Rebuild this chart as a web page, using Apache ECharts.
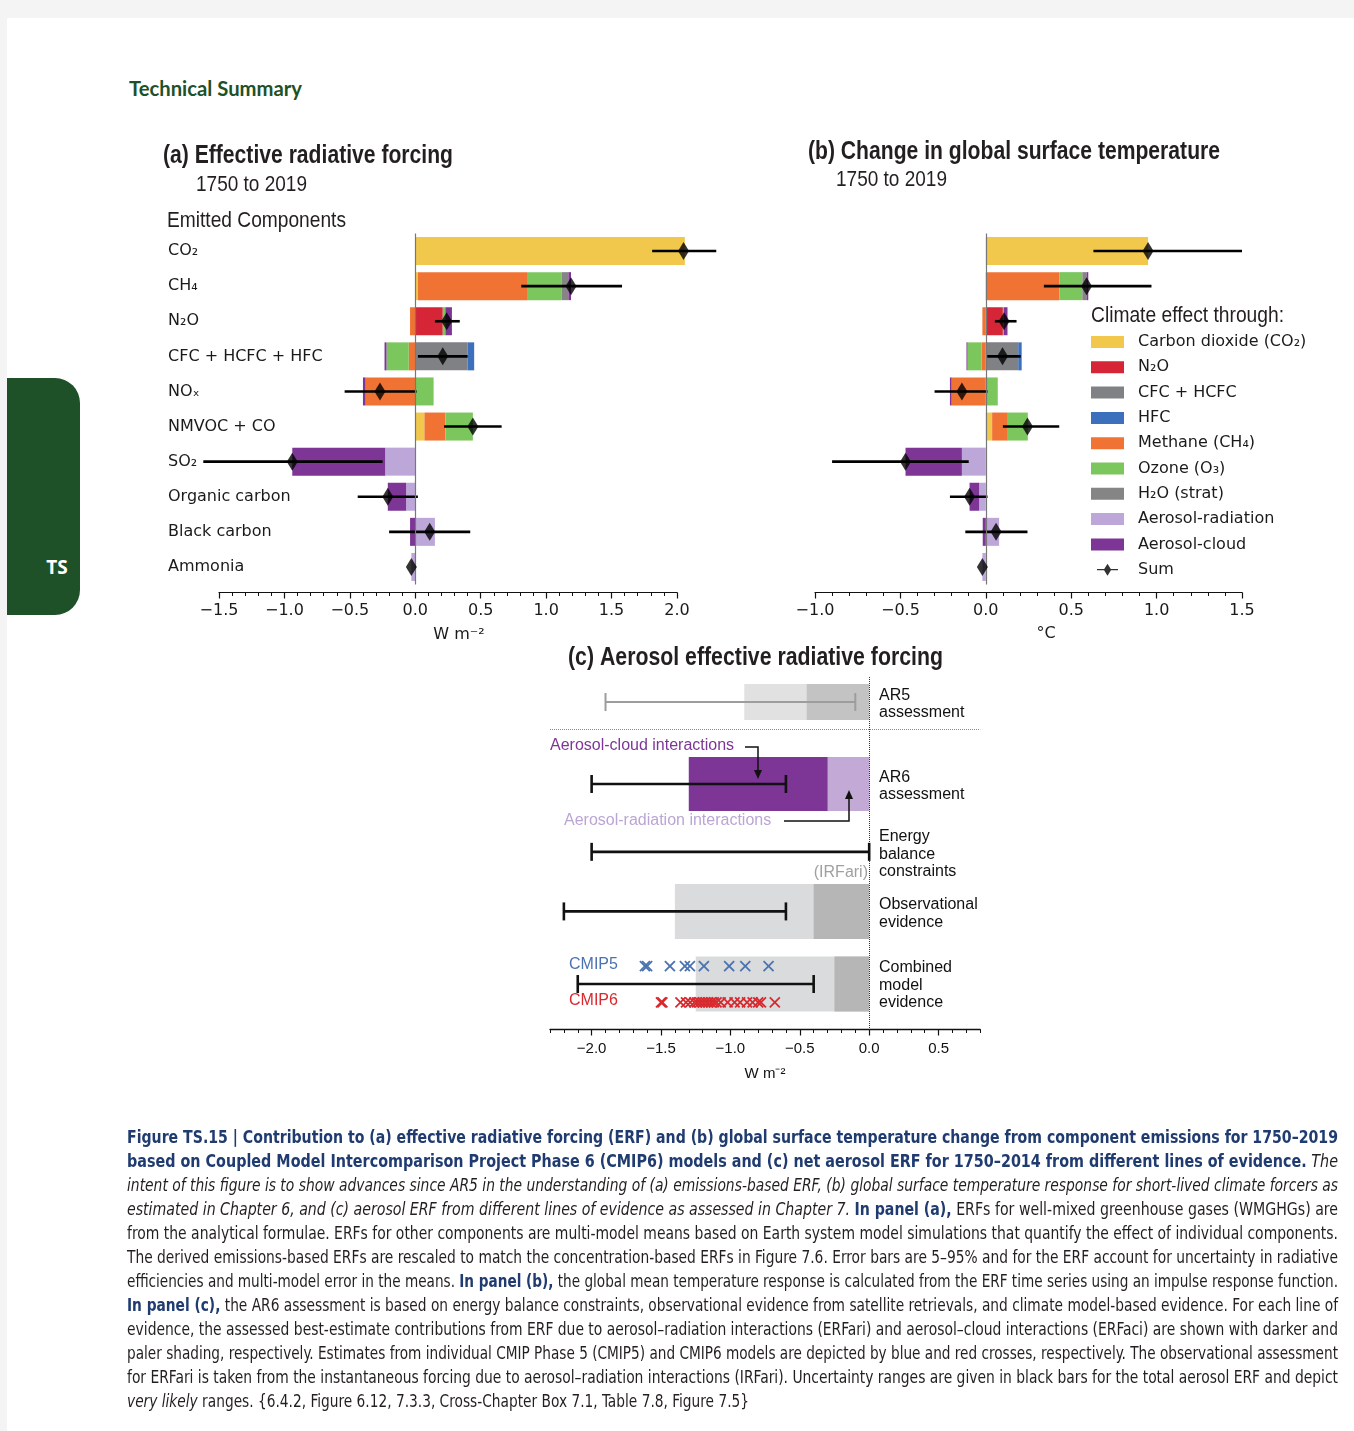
<!DOCTYPE html>
<html><head><meta charset="utf-8">
<script src="https://cdn.jsdelivr.net/npm/echarts@6/dist/echarts.min.js"></script>
<style>
html,body{margin:0;padding:0;background:#f4f4f4;}
#page{position:absolute;left:7px;top:18px;width:1347px;height:1413px;background:#fff;}
#tab{position:absolute;left:7px;top:378px;width:73px;height:237px;background:#1f5129;border-radius:0 25px 25px 0;}
#ts{position:absolute;left:37px;top:554px;width:40px;text-align:center;line-height:24px;color:#fff;font:bold 19px "Open Sans","Liberation Sans",sans-serif;}
#hdr{position:absolute;left:129px;top:76px;line-height:26px;white-space:nowrap;color:#1e5128;font:bold 20px Lato,"Liberation Sans",sans-serif;transform-origin:0 50%;}
#chart{position:absolute;left:0;top:0;width:1354px;height:1431px;}
#caption{position:absolute;left:127px;top:1125px;width:1211px;font-family:"Liberation Sans Narrow","DejaVu Sans Condensed","Liberation Sans",sans-serif;font-size:18px;color:#231f20;}
.ln{height:24px;line-height:24px;white-space:nowrap;}
.ln>span{display:inline-block;transform-origin:0 50%;}
#caption b{color:#1f3b70;font-weight:bold;}
#caption i{font-style:italic;}
</style></head>
<body>
<div id="page"></div>
<div id="tab"></div>
<div id="ts">TS</div>
<div id="hdr">Technical Summary</div>
<div id="chart"></div>
<div id="caption">
<div class="ln"><span><b>Figure TS.15 | Contribution to (a) effective radiative forcing (ERF) and (b) global surface temperature change from component emissions for 1750–2019</b></span></div>
<div class="ln"><span><b>based on Coupled Model Intercomparison Project Phase 6 (CMIP6) models and (c) net aerosol ERF for 1750–2014 from different lines of evidence.</b> <i>The</i></span></div>
<div class="ln"><span><i>intent of this figure is to show advances since AR5 in the understanding of (a) emissions-based ERF, (b) global surface temperature response for short-lived climate forcers as</i></span></div>
<div class="ln"><span><i>estimated in Chapter 6, and (c) aerosol ERF from different lines of evidence as assessed in Chapter 7.</i> <b>In panel (a),</b> ERFs for well-mixed greenhouse gases (WMGHGs) are</span></div>
<div class="ln"><span>from the analytical formulae. ERFs for other components are multi-model means based on Earth system model simulations that quantify the effect of individual components.</span></div>
<div class="ln"><span>The derived emissions-based ERFs are rescaled to match the concentration-based ERFs in Figure 7.6. Error bars are 5–95% and for the ERF account for uncertainty in radiative</span></div>
<div class="ln"><span>efficiencies and multi-model error in the means. <b>In panel (b),</b> the global mean temperature response is calculated from the ERF time series using an impulse response function.</span></div>
<div class="ln"><span><b>In panel (c),</b> the AR6 assessment is based on energy balance constraints, observational evidence from satellite retrievals, and climate model-based evidence. For each line of</span></div>
<div class="ln"><span>evidence, the assessed best-estimate contributions from ERF due to aerosol–radiation interactions (ERFari) and aerosol–cloud interactions (ERFaci) are shown with darker and</span></div>
<div class="ln"><span>paler shading, respectively. Estimates from individual CMIP Phase 5 (CMIP5) and CMIP6 models are depicted by blue and red crosses, respectively. The observational assessment</span></div>
<div class="ln"><span>for ERFari is taken from the instantaneous forcing due to aerosol–radiation interactions (IRFari). Uncertainty ranges are given in black bars for the total aerosol ERF and depict</span></div>
<div class="ln"><span><i>very likely</i> ranges. {6.4.2, Figure 6.12, 7.3.3, Cross-Chapter Box 7.1, Table 7.8, Figure 7.5}</span></div>
</div>
<script>
// ---------------- DATA ----------------
const components = ['CO₂','CH₄','N₂O','CFC + HCFC + HFC','NOₓ','NMVOC + CO','SO₂','Organic carbon','Black carbon','Ammonia'];
const effectNames = ['Carbon dioxide (CO₂)','N₂O','CFC + HCFC','HFC','Methane (CH₄)','Ozone (O₃)','H₂O (strat)','Aerosol-radiation','Aerosol-cloud'];

// (a) ERF, W m-2, contribution of each climate effect per emitted component
const erfCO2   = [2.06, 0.02, 0,     0,     0,     0.07, 0,     0,     0,     0];
const erfN2O   = [0,    0,    0.21,  0,     0,     0,    0,     0,     0,     0];
const erfCFC   = [0,    0,    0,     0.40,  0,     0,    0,     0,     0,     0];
const erfHFC   = [0,    0,    0,     0.05,  0,     0,    0,     0,     0,     0];
const erfCH4   = [0,    0.84, -0.04, -0.05, -0.38, 0.16, 0,     0,     0,     0];
const erfO3    = [0,    0.26, 0.02,  -0.17, 0.14,  0.21, 0,     0,     0,     0];
const erfH2O   = [0,    0.05, 0,     0,     0,     0,    0,     0,     0,     0];
const erfAri   = [0,    0,    0,     0,     0,     0,    -0.23, -0.07, 0.15,  -0.03];
const erfAci   = [0,    0.02, 0.05,  -0.015,-0.02, 0,    -0.71, -0.14, -0.04, 0];
const erfSum   = [2.05, 1.19, 0.24,  0.21,  -0.27, 0.44, -0.94, -0.21, 0.11,  -0.03];
const erfLow   = [1.81, 0.81, 0.15,  0.02,  -0.54, 0.22, -1.62, -0.44, -0.20, null];
const erfHigh  = [2.30, 1.58, 0.34,  0.40,  0.01,  0.66, -0.25, 0.02,  0.42,  null];

// (b) temperature change, degC
const dtCO2    = [0.95, 0,    0,     0,     0,     0.037, 0,     0,      0,      0];
const dtN2O    = [0,    0,    0.10,  0,     0,     0,     0,     0,      0,      0];
const dtCFC    = [0,    0,    0,     0.19,  0,     0,     0,     0,      0,      0];
const dtHFC    = [0,    0,    0,     0.02,  0,     0,     0,     0,      0,      0];
const dtCH4    = [0,    0.43, -0.02, -0.025,-0.20, 0.092, 0,     0,      0,      0];
const dtO3     = [0,    0.135,0.005, -0.082,0.07,  0.117, 0,     0,      0,      0];
const dtH2O    = [0,    0.025,0,     0,     0,     0,     0,     0,      0,      0];
const dtAri    = [0,    0,    0,     0,     0,     0,     -0.14, -0.039, 0.078,  -0.02];
const dtAci    = [0,    0.01, 0.022, -0.006,-0.01, 0,     -0.33, -0.056, -0.018, 0];
const dtSum    = [0.95, 0.59, 0.107, 0.098, -0.14, 0.244, -0.47, -0.095, 0.06,   -0.02];
const dtLow    = [0.63, 0.34, 0.053, 0.008, -0.30, 0.10,  -0.90, -0.21,  -0.12,  null];
const dtHigh   = [1.50, 0.97, 0.18,  0.205, 0.01,  0.43,  -0.10, 0.01,   0.244,  null];

// (c) aerosol ERF lines of evidence, W m-2
const evidenceLines = ['AR5\nassessment','AR6\nassessment','Energy\nbalance\nconstraints','Observational\nevidence','Combined\nmodel\nevidence'];
const aerTotal = [-0.90, -1.30, null, -1.40, -1.25];
const aerAri   = [-0.45, -0.30, null, -0.40, -0.25];
const aerLow   = [-1.9, -2.0, -2.0, -2.2, -2.1];
const aerHigh  = [-0.1, -0.6, 0.0, -0.6, -0.4];
const cmip5 = [-1.616, -1.60, -1.436, -1.328, -1.292, -1.191, -1.009, -0.893, -0.725];
const cmip6 = [-1.50, -1.49, -1.36, -1.32, -1.29, -1.26, -1.24, -1.22, -1.20, -1.18, -1.16, -1.14, -1.12, -1.10, -1.07, -1.02, -0.97, -0.93, -0.88, -0.84, -0.80, -0.78, -0.68];
const ticksC = [-2.0,-1.5,-1.0,-0.5,0.0,0.5];

// ---------------- LAYOUT / STYLE ----------------
const effectColors = ['#f1c84b','#d62536','#7f8184','#3c70bd','#f07333','#7cc65e','#858585','#bda7d8','#7d3596'];
const erfSeries = [erfCO2,erfN2O,erfCFC,erfHFC,erfCH4,erfO3,erfH2O,erfAri,erfAci];
const dtSeries  = [dtCO2,dtN2O,dtCFC,dtHFC,dtCH4,dtO3,dtH2O,dtAri,dtAci];
const cLayout = {yPos:[0.71,3.035,4.96,6.65,8.71], barH:[1.02,1.53,0,1.56,1.56], cmip5Y:8.20, cmip6Y:9.23, sepY:1.48};
const cOuter = ['#e1e1e1','#7d3596',null,'#dadbdc','#dadbdc'];
const cInner = ['#c3c3c3','#c2a9d6',null,'#b6b6b6','#b6b6b6'];
const minorC = []; for (let k=-23;k<=8;k++) minorC.push(k/10);

const fmt = v => { const s = (Math.abs(v)<1e-9?0:v).toFixed(1); return s.replace('-','−'); };
const mctx = document.createElement('canvas').getContext('2d');
function txt(text, x, y, size, weight, w, fill, family){
  family = family || 'Liberation Sans';
  mctx.font = `${weight} ${size}px "${family}"`;
  const s = w ? w / mctx.measureText(text).width : 1;
  return {type:'text', x:x, y:y, scaleX:s, z:100, silent:true,
    style:{text:text, fontFamily:family, fontSize:size, fontWeight:weight, fill:fill||'#231f20', align:'left', verticalAlign:'middle'}};
}
function label(text, x, y, size, fill, align, lh, family){
  return {type:'text', x:x, y:y, z:100, silent:true,
    style:{text:text, fontFamily:family||'Liberation Sans', fontSize:size, fill:fill||'#111', align:align||'left', verticalAlign:'middle', lineHeight:lh||size}};
}

function valueAxisAB(grid, min, max){
  return {gridIndex:grid, type:'value', min:min, max:max, interval:0.5, offset:8, position:'bottom',
    axisLine:{show:true, onZero:false, lineStyle:{color:'#111',width:1.2}},
    axisTick:{show:true, length:6, lineStyle:{color:'#111',width:1.2}},
    minorTick:{show:true,splitNumber:5,length:3.5,lineStyle:{color:'#111',width:1}},
    splitLine:{show:false}, minorSplitLine:{show:false},
    axisLabel:{show:true, formatter:fmt, fontFamily:'DejaVu Sans', fontSize:16, color:'#1a1a1a', margin:10, showMinLabel:true, showMaxLabel:true}};
}
function catAxis(grid, showLabels){
  return {gridIndex:grid, type:'category', data:components, inverse:true,
    axisLine:{show:false}, axisTick:{show:false}, splitLine:{show:false},
    axisLabel:{show:showLabels, align:'left', margin:51, fontFamily:'DejaVu Sans', fontSize:16, color:'#1a1a1a'}};
}

const errRenderAB = function(params, api){
  const a = api.coord([api.value(0), api.value(2)]);
  const b = api.coord([api.value(1), api.value(2)]);
  return {type:'line', shape:{x1:a[0],y1:a[1],x2:b[0],y2:b[1]}, style:{stroke:'#000', lineWidth:2.6}};
};

const series = [];
const zeroLine = {silent:true, symbol:['none','none'], label:{show:false}, lineStyle:{color:'#777',width:1.2,type:'solid'}, data:[{xAxis:0}]};
effectNames.forEach((n,k)=>{
  series.push({type:'bar', name:n, xAxisIndex:0, yAxisIndex:0, stack:'erf', barWidth:28, clip:false, itemStyle:{color:effectColors[k]}, data:erfSeries[k], markLine: k===0?zeroLine:undefined});
});
effectNames.forEach((n,k)=>{
  series.push({type:'bar', name:n, xAxisIndex:1, yAxisIndex:1, stack:'dt', barWidth:28, clip:false, itemStyle:{color:effectColors[k]}, data:dtSeries[k], markLine: k===0?zeroLine:undefined});
});
series.push({type:'custom', name:'err a', xAxisIndex:0, yAxisIndex:0, z:4, clip:false, renderItem:errRenderAB, encode:{x:[0,1],y:2},
  data: erfLow.map((lo,i)=> lo==null?null:[lo, erfHigh[i], i]).filter(Boolean)});
series.push({type:'custom', name:'err b', xAxisIndex:1, yAxisIndex:1, z:4, clip:false, renderItem:errRenderAB, encode:{x:[0,1],y:2},
  data: dtLow.map((lo,i)=> lo==null?null:[lo, dtHigh[i], i]).filter(Boolean)});
series.push({type:'scatter', name:'Sum', xAxisIndex:0, yAxisIndex:0, z:6, clip:false, symbol:'diamond', symbolSize:[11,18], itemStyle:{color:'#000'}, data: erfSum.map((v,i)=>[v,i])});
series.push({type:'scatter', name:'Sum', xAxisIndex:1, yAxisIndex:1, z:6, clip:false, symbol:'diamond', symbolSize:[11,18], itemStyle:{color:'#000'}, data: dtSum.map((v,i)=>[v,i])});

// panel (c)
series.push({type:'custom', name:'aer bars', xAxisIndex:2, yAxisIndex:2, z:2, encode:{x:[0,1],y:2},
  data: aerTotal.map((t,i)=> t==null?null:[t, aerAri[i], cLayout.yPos[i], cLayout.barH[i], i]).filter(Boolean),
  renderItem:function(params, api){
    const y = api.value(2), h = api.value(3), i = api.value(4);
    const pT = api.coord([api.value(0), y]), pA = api.coord([api.value(1), y]), p0 = api.coord([0, y]);
    const hp = Math.abs(api.size([0, h])[1]);
    return {type:'group', children:[
      {type:'rect', shape:{x:pT[0], y:pT[1]-hp/2, width:p0[0]-pT[0], height:hp}, style:{fill:cOuter[i]}},
      {type:'rect', shape:{x:pA[0], y:pA[1]-hp/2, width:p0[0]-pA[0], height:hp}, style:{fill:cInner[i]}}
    ]};
  }});
series.push({type:'custom', name:'aer err', xAxisIndex:2, yAxisIndex:2, z:5, encode:{x:[0,1],y:2},
  data: aerLow.map((lo,i)=>[lo, aerHigh[i], cLayout.yPos[i], i]),
  renderItem:function(params, api){
    const y = api.value(2), i = api.value(3);
    const a = api.coord([api.value(0), y]), b = api.coord([api.value(1), y]);
    const col = i===0 ? '#9d9d9d' : '#111', lw = i===0 ? 2 : 2.6, ch = 9;
    const st = {stroke:col, lineWidth:lw};
    return {type:'group', children:[
      {type:'line', shape:{x1:a[0],y1:a[1],x2:b[0],y2:b[1]}, style:st},
      {type:'line', shape:{x1:a[0],y1:a[1]-ch,x2:a[0],y2:a[1]+ch}, style:st},
      {type:'line', shape:{x1:b[0],y1:b[1]-ch,x2:b[0],y2:b[1]+ch}, style:st}
    ]};
  }});
function crossRender(color){
  return function(params, api){
    const p = api.coord([api.value(0), api.value(1)]), r = 5;
    const st = {stroke:color, lineWidth:1.8};
    return {type:'group', children:[
      {type:'line', shape:{x1:p[0]-r,y1:p[1]-r,x2:p[0]+r,y2:p[1]+r}, style:st},
      {type:'line', shape:{x1:p[0]-r,y1:p[1]+r,x2:p[0]+r,y2:p[1]-r}, style:st}
    ]};
  };
}
series.push({type:'custom', name:'CMIP5', xAxisIndex:2, yAxisIndex:2, z:6, encode:{x:0,y:1}, renderItem:crossRender('#4b73b1'), data: cmip5.map(v=>[v, cLayout.cmip5Y])});
series.push({type:'custom', name:'CMIP6', xAxisIndex:2, yAxisIndex:2, z:6, encode:{x:0,y:1}, renderItem:crossRender('#d8292f'), data: cmip6.map(v=>[v, cLayout.cmip6Y])});
series.push({type:'line', name:'guides', xAxisIndex:2, yAxisIndex:2, symbol:'none', lineStyle:{opacity:0}, data:[[0, cLayout.sepY]],
  markLine:{silent:true, symbol:['none','none'], label:{show:false},
    data:[{xAxis:0, lineStyle:{type:'dotted', color:'#333', width:1}}, {yAxis:cLayout.sepY, lineStyle:{type:'dotted', color:'#888', width:1}}]}});

const graphic = [
  txt('(a) Effective radiative forcing', 163, 156, 25, 'bold', 290),
  txt('1750 to 2019', 196, 185, 22, 'normal', 111),
  txt('Emitted Components', 167, 221, 22, 'normal', 179),
  txt('(b) Change in global surface temperature', 808, 152, 25, 'bold', 412),
  txt('1750 to 2019', 836, 180, 22, 'normal', 111),
  txt('Climate effect through:', 1091, 316, 22, 'normal', 193),
  txt('(c) Aerosol effective radiative forcing', 568, 658, 25, 'bold', 375),
  label('W m⁻²', 459, 635, 16, '#1a1a1a', 'center', 16, 'DejaVu Sans'),
  label('°C', 1046, 634, 16, '#1a1a1a', 'center', 16, 'DejaVu Sans'),
  label('W m⁻²', 765, 1074, 15, '#111', 'center'),
  label('Aerosol-cloud interactions', 550, 746, 16, '#7d3596'),
  label('Aerosol-radiation interactions', 564, 821, 16, '#bba5d4'),
  label('(IRFari)', 868, 873, 16, '#a0a0a0', 'right'),
  label('CMIP5', 569, 965, 16, '#4b73b1'),
  label('CMIP6', 569, 1001, 16, '#d8292f'),
  {type:'polyline', silent:true, z:100, shape:{points:[[745,747],[758,747],[758,771]]}, style:{stroke:'#111', lineWidth:1.5, fill:null}},
  {type:'polygon', silent:true, z:100, shape:{points:[[754,770],[762,770],[758,779]]}, style:{fill:'#111'}},
  {type:'polyline', silent:true, z:100, shape:{points:[[784,821],[849,821],[849,798]]}, style:{stroke:'#111', lineWidth:1.5, fill:null}},
  {type:'polygon', silent:true, z:100, shape:{points:[[845,799],[853,799],[849,790]]}, style:{fill:'#111'}}
];
const labelY = [704, 786, 854.5, 913.5, 985.5];
evidenceLines.forEach((t,i)=> graphic.push(label(t, 879, labelY[i], 16, '#111', 'left', 17.5)));

const gridC = {left:550, top:677, width:430.2, height:352.5};
const option = {
  animation:false,
  grid:[
    {left:219, top:233.5, width:458, height:351},
    {left:815, top:233.5, width:427, height:351},
    gridC,
    Object.assign({}, gridC)
  ],
  xAxis:[
    valueAxisAB(0, -1.5, 2.0),
    valueAxisAB(1, -1.0, 1.5),
    {gridIndex:2, type:'value', min:-2.3, max:0.8, position:'bottom',
      axisLine:{show:true, onZero:false, lineStyle:{color:'#111',width:1.3}},
      axisTick:{show:true, customValues:ticksC, length:6, lineStyle:{color:'#111',width:1.2}},
      splitLine:{show:false},
      axisLabel:{show:true, customValues:ticksC, formatter:fmt, fontFamily:'Liberation Sans', fontSize:15, color:'#111', margin:12}},
    {gridIndex:3, type:'value', min:-2.3, max:0.8, position:'bottom',
      axisLine:{show:false, onZero:false}, axisLabel:{show:false}, splitLine:{show:false},
      axisTick:{show:true, customValues:minorC, length:3.5, lineStyle:{color:'#111',width:1}}}
  ],
  yAxis:[catAxis(0,true), catAxis(1,false),
    {gridIndex:2, type:'value', min:0, max:10, inverse:true, show:false},
    {gridIndex:3, type:'value', min:0, max:10, inverse:true, show:false}],
  legend:{orient:'vertical', left:1091, top:334, padding:0, itemWidth:33, itemHeight:12, itemGap:9.3, selectedMode:false,
    textStyle:{fontFamily:'DejaVu Sans', fontSize:16, lineHeight:16, color:'#1a1a1a', padding:[0,0,0,9]},
    data: effectNames.map(n=>({name:n, icon:'rect'})).concat([{name:'Sum', icon:'path://M2,7.2L30,7.2L30,8.8L2,8.8Z M16,0L21,8L16,16L11,8Z'}])},
  series:series,
  graphic:graphic
};
const chart = echarts.init(document.getElementById('chart'), null, {renderer:'canvas'});
chart.setOption(option);

// caption justification
const lines = document.querySelectorAll('#caption .ln > span');
lines.forEach((sp, idx)=>{
  const target = idx === lines.length-1 ? 622 : 1211;
  const w = sp.getBoundingClientRect().width;
  if (w > target) { sp.style.transform = 'scaleX(' + (target/w) + ')'; }
  else { const n = (sp.textContent.match(/ /g)||[]).length; if (n) sp.style.wordSpacing = ((target - w)/n) + 'px'; }
});
const hdr = document.getElementById('hdr');
hdr.style.transform = 'scaleX(' + (173/hdr.getBoundingClientRect().width) + ')';
</script>
</body></html>
